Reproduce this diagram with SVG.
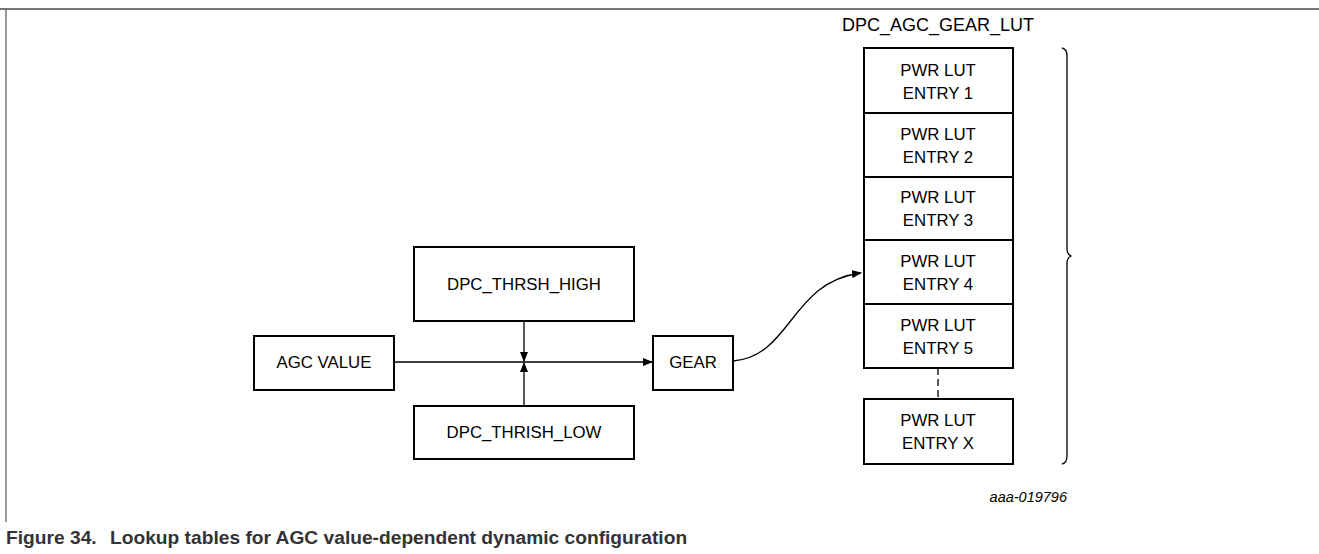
<svg xmlns="http://www.w3.org/2000/svg" width="1319" height="554" viewBox="0 0 1319 554">
<style>
.box{fill:#fff;stroke:#000;stroke-width:2}
.t{font-family:"Liberation Sans",Arial,sans-serif;font-size:16.8px;fill:#000;text-anchor:middle}
.ln{fill:none;stroke:#000;stroke-width:1.3}
</style>
<defs>
<marker id="ah" markerWidth="10" markerHeight="8" refX="9" refY="4" orient="auto" markerUnits="userSpaceOnUse">
<path d="M0,0 L10,4 L0,8 Z" fill="#000"/>
</marker>
</defs>
<rect width="1319" height="554" fill="#fff"/>
<g id="frame">
<line x1="0" y1="9" x2="1319" y2="9" stroke="#777" stroke-width="2"/>
<line x1="6" y1="9" x2="6" y2="522" stroke="#555" stroke-width="1.2"/>
</g>
<g id="connectors">
<line class="ln" x1="395" y1="362" x2="652" y2="362" marker-end="url(#ah)"/>
<line class="ln" x1="524" y1="321" x2="524" y2="361" marker-end="url(#ah)"/>
<line class="ln" x1="524" y1="406" x2="524" y2="363" marker-end="url(#ah)"/>
<path class="ln" d="M733,361 C792,356 790,282 861,273" marker-end="url(#ah)"/>
<line x1="938" y1="368" x2="938" y2="399" stroke="#000" stroke-width="1.3" stroke-dasharray="7,4"/>
</g>
<g id="agc-value">
<rect class="box" x="254" y="336" width="140" height="54"/>
<text class="t" x="324" y="368">AGC VALUE</text>
</g>
<g id="thrsh-high">
<rect class="box" x="414" y="247" width="220" height="74"/>
<text class="t" x="524" y="290">DPC_THRSH_HIGH</text>
</g>
<g id="thrish-low">
<rect class="box" x="414" y="406" width="220" height="53"/>
<text class="t" x="524" y="438">DPC_THRISH_LOW</text>
</g>
<g id="gear">
<rect class="box" x="653" y="336" width="80" height="54"/>
<text class="t" x="693" y="368">GEAR</text>
</g>
<g id="lut">
<text class="t" x="938" y="31" style="font-size:18px">DPC_AGC_GEAR_LUT</text>
<g id="entry1">
<rect class="box" x="864" y="48" width="149" height="65"/>
<text class="t" x="938" y="76">PWR LUT</text>
<text class="t" x="938" y="99">ENTRY 1</text>
</g>
<g id="entry2">
<rect class="box" x="864" y="113" width="149" height="64"/>
<text class="t" x="938" y="140">PWR LUT</text>
<text class="t" x="938" y="163">ENTRY 2</text>
</g>
<g id="entry3">
<rect class="box" x="864" y="177" width="149" height="63"/>
<text class="t" x="938" y="203">PWR LUT</text>
<text class="t" x="938" y="226">ENTRY 3</text>
</g>
<g id="entry4">
<rect class="box" x="864" y="240" width="149" height="64"/>
<text class="t" x="938" y="267">PWR LUT</text>
<text class="t" x="938" y="290">ENTRY 4</text>
</g>
<g id="entry5">
<rect class="box" x="864" y="304" width="149" height="64"/>
<text class="t" x="938" y="331">PWR LUT</text>
<text class="t" x="938" y="354">ENTRY 5</text>
</g>
<g id="entryX">
<rect class="box" x="864" y="399" width="149" height="65"/>
<text class="t" x="938" y="426">PWR LUT</text>
<text class="t" x="938" y="449">ENTRY X</text>
</g>
</g>
<g id="brace">
<path d="M1062,48 Q1067,49 1067,56 L1067,249 Q1067,254 1071,256 Q1067,258 1067,263 L1067,456 Q1067,463 1062,464" fill="none" stroke="#000" stroke-width="1.3"/>
</g>
<text x="1067" y="502" font-family="Liberation Sans, Arial, sans-serif" font-size="14.5" font-style="italic" text-anchor="end">aaa-019796</text>
<g id="caption" font-family="Liberation Sans, Arial, sans-serif" font-size="19.2" font-weight="bold" fill="#333">
<text x="6" y="544">Figure 34.</text>
<text x="110" y="544">Lookup tables for AGC value-dependent dynamic configuration</text>
</g>
</svg>
